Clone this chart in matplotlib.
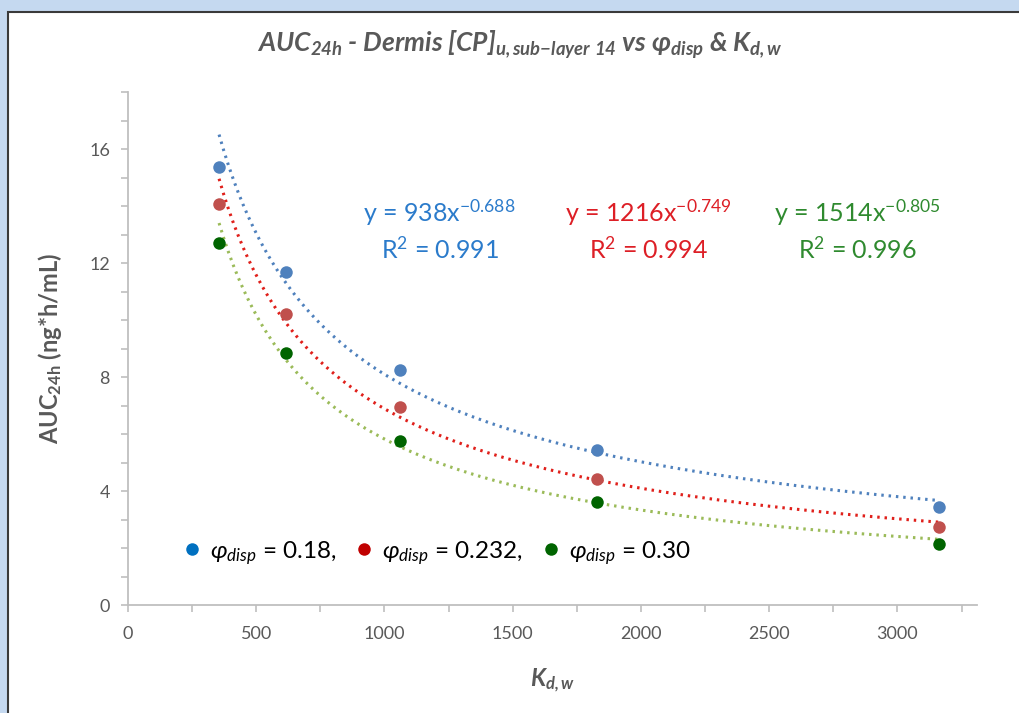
import numpy as np
import matplotlib
matplotlib.use("Agg")
import matplotlib.pyplot as plt
from matplotlib.lines import Line2D
from matplotlib.patches import Rectangle

# ── data ────────────────────────────────────────────────────────────────
kdw = [355, 617, 1059, 1830, 3162]
auc_018 = [15.37, 11.68, 8.25, 5.44, 3.44]
auc_0232 = [14.07, 10.21, 6.95, 4.42, 2.74]
auc_030 = [12.70, 8.84, 5.75, 3.61, 2.14]

# power trendlines as printed on the chart: y = a * x^b
fit_a = [938, 1216, 1514]
fit_b = [-0.688, -0.749, -0.805]
fit_r2 = ["0.991", "0.994", "0.996"]
phi_labels = ["0.18,", "0.232,", "0.30"]

# ── fonts ───────────────────────────────────────────────────────────────
FONT = "Lato"
plt.rcParams["font.family"] = [FONT, "DejaVu Sans"]
plt.rcParams["mathtext.fontset"] = "custom"
plt.rcParams["mathtext.rm"] = FONT
plt.rcParams["mathtext.it"] = f"{FONT}:italic"
plt.rcParams["mathtext.bf"] = f"{FONT}:bold"
plt.rcParams["mathtext.sf"] = f"{FONT}:italic:bold"
plt.rcParams["mathtext.default"] = "regular"

GREY = "#595959"
marker_cols = ["#4F81BD", "#C0504D", "#006400"]
line_cols = ["#4F81BD", "#E0201B", "#9BBB59"]
text_cols = ["#2B7BCB", "#DD1F26", "#2F8A2F"]
legend_cols = ["#0070C0", "#C00000", "#006400"]

fig = plt.figure(figsize=(10.19, 7.13), dpi=100, facecolor="#C5D9F0")
# white chart area with dark frame (Excel screenshot look)
fig.patches.append(Rectangle((8 / 1019, -0.05), 1.1, 1 - 12 / 713 + 0.05,
                             transform=fig.transFigure, facecolor="white",
                             edgecolor="#3A3A3A", linewidth=1.5, zorder=-5))

ax = fig.add_axes([128 / 1019, 1 - 605 / 713, (977 - 128) / 1019, (605 - 92) / 713])
ax.set_facecolor("none")

series = [auc_018, auc_0232, auc_030]
xs = np.linspace(min(kdw), max(kdw), 300)
for i, ys in enumerate(series):
    ax.plot(xs, fit_a[i] * xs ** fit_b[i], color=line_cols[i], lw=2.2,
            linestyle=(0, (0.8, 1.6)), dash_capstyle="butt", zorder=2)
    ax.plot(kdw, ys, "o", color=marker_cols[i], ms=9, mec="none", zorder=3)

# trendline equations
eq_x = [1215, 2030, 2845]
for i in range(3):
    ax.text(eq_x[i], 13.45, f"y = {fit_a[i]}x$^{{{fit_b[i]}}}$", color=text_cols[i],
            fontsize=18, ha="center", va="baseline")
    ax.text(eq_x[i], 12.15, f"R$^{{2}}$ = {fit_r2[i]}", color=text_cols[i],
            fontsize=18, ha="center", va="baseline")

# axes styling
ax.set_xlim(0, 3310)
ax.set_ylim(0, 18)
ax.set_xticks(np.arange(0, 3001, 500))
ax.set_xticks(np.arange(0, 3300, 250), minor=True)
ax.set_yticks(np.arange(0, 17, 4))
ax.set_yticks(np.arange(0, 19, 1), minor=True)
for side in ("top", "right"):
    ax.spines[side].set_visible(False)
for side in ("left", "bottom"):
    ax.spines[side].set_color("#BFBFBF")
    ax.spines[side].set_linewidth(1.3)
ax.tick_params(which="both", direction="out", color="#BFBFBF", width=1.2, length=5,
               labelcolor=GREY, labelsize=13)
ax.tick_params(axis="x", pad=10)
ax.tick_params(axis="y", pad=8)

ax.set_xlabel(r"$\mathsf{K_{d,w}}$", fontsize=17, color=GREY, labelpad=18)
ax.set_ylabel(r"$\mathbf{AUC_{24h}}$ (ng*h/mL)", fontsize=17, color=GREY,
              fontweight="bold", labelpad=18)
fig.text(520 / 1019, 1 - 45 / 713,
         r"$\mathsf{AUC_{24h}}$ - Dermis $\mathsf{[CP]_{u,sub{-}layer\ 14}}$ vs "
         r"$\mathsf{\varphi_{disp}}$ & $\mathsf{K_{d,w}}$",
         fontsize=19, color=GREY, fontweight="bold", fontstyle="italic",
         ha="center", va="center")

handles = [Line2D([], [], ls="none", marker="o", ms=9, color=c, mec="none")
           for c in legend_cols]
labels = [r"$\mathit{\varphi_{disp}}$ = " + v for v in phi_labels]
ax.legend(handles, labels, ncol=3, loc="lower left", bbox_to_anchor=(0.062, 0.075),
          frameon=False, fontsize=17.5, handletextpad=0.3, columnspacing=0.7,
          handlelength=0.9, borderpad=0, borderaxespad=0)

fig.savefig("out.png", dpi=100, facecolor=fig.get_facecolor())
